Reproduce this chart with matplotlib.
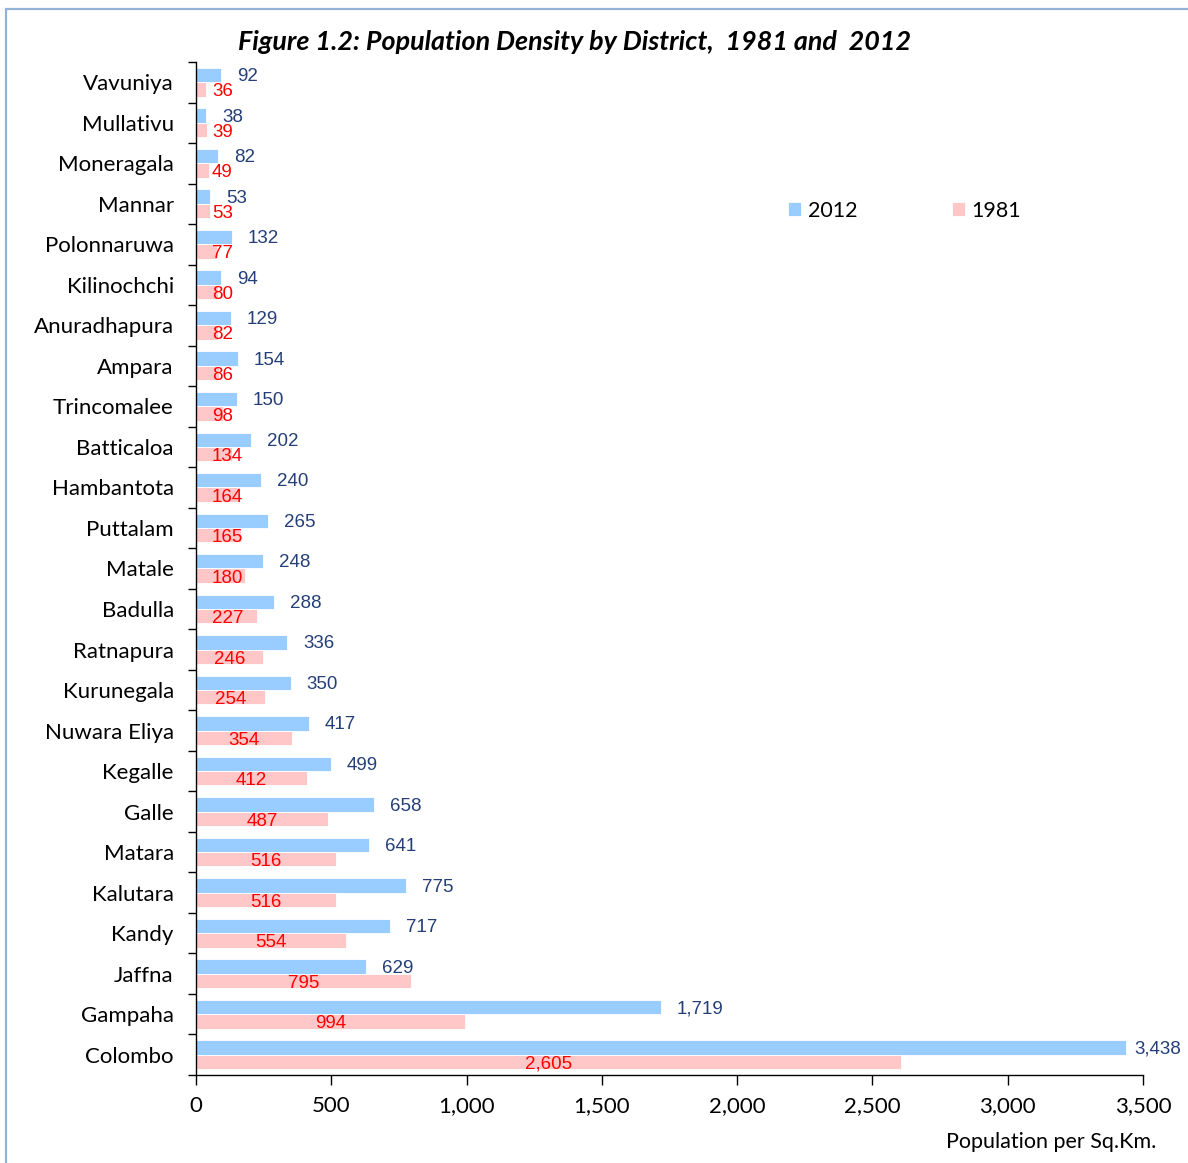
import numpy as np
import matplotlib
matplotlib.use('Agg')
import matplotlib.pyplot as plt
from matplotlib.patches import Rectangle

# Data (top to bottom as in the chart)
districts = ['Vavuniya', 'Mullativu', 'Moneragala', 'Mannar', 'Polonnaruwa', 'Kilinochchi',
             'Anuradhapura', 'Ampara', 'Trincomalee', 'Batticaloa', 'Hambantota', 'Puttalam',
             'Matale', 'Badulla', 'Ratnapura', 'Kurunegala', 'Nuwara Eliya', 'Kegalle', 'Galle',
             'Matara', 'Kalutara', 'Kandy', 'Jaffna', 'Gampaha', 'Colombo']
dens_2012 = [92, 38, 82, 53, 132, 94, 129, 154, 150, 202, 240, 265, 248, 288, 336, 350,
             417, 499, 658, 641, 775, 717, 629, 1719, 3438]
dens_1981 = [36, 39, 49, 53, 77, 80, 82, 86, 98, 134, 164, 165, 180, 227, 246, 254,
             354, 412, 487, 516, 516, 554, 795, 994, 2605]

blue = '#99ccff'
pink = '#ffc7c7'
navy = '#243f78'
red = '#ff0000'
label_font = 'Lato'
num_font = 'Liberation Sans'

fig = plt.figure(figsize=(11.88, 11.63), dpi=100)
ax = fig.add_axes([0.165, 0.0757, 0.797, 0.871])

n = len(districts)
y = np.arange(n)
h = 0.355
ax.barh(y - h / 2, dens_2012, height=h, color=blue, edgecolor='white', linewidth=0.6, label='2012')
ax.barh(y + h / 2, dens_1981, height=h, color=pink, edgecolor='white', linewidth=0.6, label='1981')

ax.set_ylim(n - 0.5, -0.5)
ax.set_xlim(0, 3500)
ax.set_yticks(y)
ax.set_yticklabels(districts, fontsize=16, family=label_font)
ax.set_yticks(np.arange(-0.5, n), minor=True)
ax.tick_params(axis='y', which='major', length=0, pad=16)
ax.tick_params(axis='y', which='minor', length=6, width=1)
ax.set_xticks(np.arange(0, 3501, 500))
ax.set_xticklabels([f'{v:,}' for v in range(0, 3501, 500)], fontsize=16, family=label_font)
ax.tick_params(axis='x', length=7, width=1, pad=8)
for s in ['top', 'right']:
    ax.spines[s].set_visible(False)
ax.spines['left'].set_linewidth(1)
ax.spines['bottom'].set_linewidth(1)

# 2012 labels, right of the bar
for i, v in enumerate(dens_2012):
    off = 16 if v < 3300 else 8
    ax.annotate(f'{v:,}', (v, i - h / 2 + 0.04), xytext=(off / 1.389, 0), textcoords='offset points',
                ha='left', va='center', color=navy, fontsize=13.5, family=num_font)

# 1981 labels, centred on the bar but kept clear of the axis
fig.canvas.draw()
r = fig.canvas.get_renderer()
x0 = ax.transData.transform((0, 0))[0]
for i, v in enumerate(dens_1981):
    t = ax.text(v / 2, i + h / 2 + 0.06, f'{v:,}', ha='center', va='center', color=red,
                fontsize=13.5, family=num_font)
    bb = t.get_window_extent(renderer=r)
    if bb.x0 < x0 + 16:
        xl = ax.transData.inverted().transform((x0 + 16, 0))[0]
        t.set_x(xl)
        t.set_ha('left')

ax.legend(ncol=2, loc='upper left', bbox_to_anchor=(0.605, 0.882), frameon=False,
          handlelength=0.6, handleheight=0.6, handletextpad=0.3, columnspacing=4.4,
          prop={'family': label_font, 'size': 15.5})

fig.text(0.973, 0.018, 'Population per Sq.Km.', ha='right', va='center', fontsize=15.5,
         family=label_font)

fig.text(0.484, 0.964, 'Figure 1.2: Population Density by District,  1981 and  2012',
         ha='center', va='center', fontsize=19.4, fontweight='bold', fontstyle='italic',
         family=label_font)

fig.patches.append(Rectangle((0.005, -0.05), 1.2, 1.042, transform=fig.transFigure,
                             fill=False, edgecolor='#95b3d7', linewidth=1.6))

fig.savefig('out.png', dpi=100)
